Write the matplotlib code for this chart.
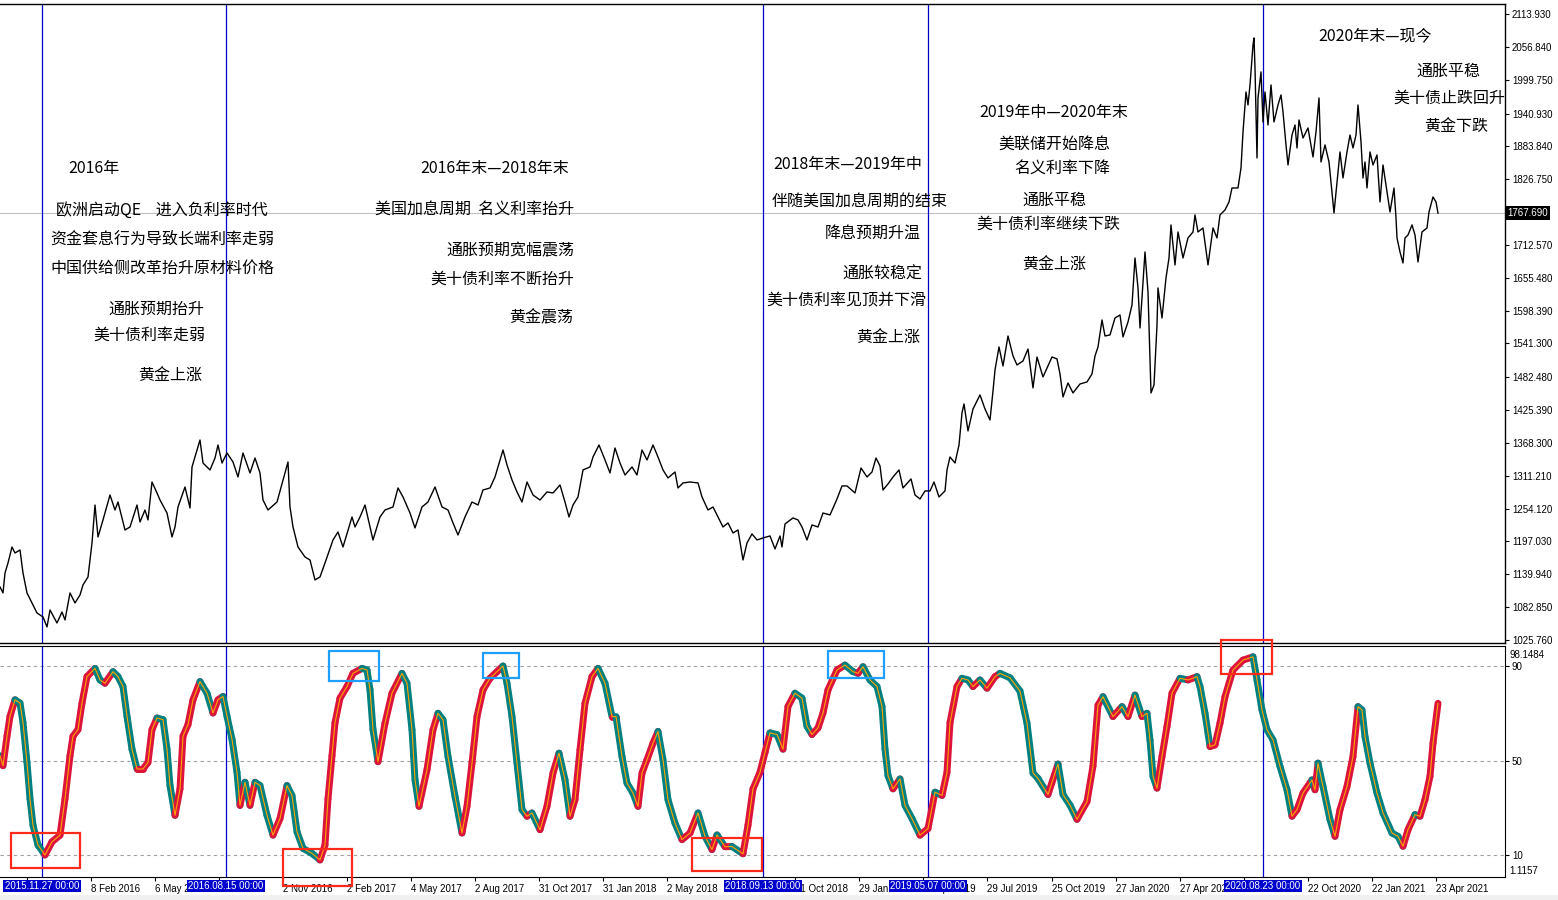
import matplotlib
matplotlib.use('Agg')
import matplotlib.pyplot as plt
import numpy as np
from matplotlib.collections import LineCollection
from matplotlib.patches import Rectangle
import matplotlib.transforms as mtransforms

# gold daily close, x = bar index
price_x = [0, 3, 5, 8, 12, 15, 20, 23, 27, 32, 37, 43, 47, 50, 57, 62, 65, 70, 75, 80, 83, 88, 92, 95, 98,
           103, 110, 115, 118, 125, 130, 137, 140, 145, 148, 152, 157, 160, 167, 172, 175, 178, 185, 190, 192,
           197, 200, 203, 210, 215, 218, 222, 227, 233, 238, 243, 250, 255, 260, 263, 268, 277, 283, 288, 290,
           293, 298, 305, 310, 315, 320, 325, 333, 338, 343, 352, 355, 360, 365, 373, 380, 385, 393, 398, 403,
           410, 415, 422, 428, 435, 442, 448, 453, 458, 465, 472, 478, 483, 490, 495, 500, 503, 507, 512, 517,
           522, 527, 533, 540, 547, 553, 560, 565, 569, 573, 578, 583, 590, 593, 599, 605, 610, 615, 620, 625,
           632, 637, 642, 647, 653, 658, 663, 668, 675, 678, 683, 690, 698, 702, 708, 713, 718, 723, 728, 733,
           738, 743, 747, 752, 757, 763, 770, 775, 780, 782, 785, 793, 798, 802, 807, 812, 818, 823, 830, 837,
           842, 847, 855, 861, 867, 872, 876, 880, 883, 888, 893, 899, 903, 911, 915, 920, 925, 930, 934, 939,
           945, 947, 950, 955, 959, 962, 964, 968, 973, 980, 985, 990, 993, 995, 999, 1003, 1008, 1013, 1017,
           1023, 1028, 1033, 1037, 1043, 1052, 1057, 1060, 1063, 1068, 1073, 1080, 1087, 1092, 1095, 1098, 1102,
           1105, 1110, 1115, 1120, 1123, 1128, 1132, 1135, 1138, 1140, 1145, 1148, 1151, 1154, 1157, 1158, 1162,
           1166, 1169, 1171, 1175, 1178, 1183, 1188, 1193, 1195, 1198, 1203, 1208, 1213, 1217, 1220, 1225, 1229,
           1232, 1238, 1241, 1243, 1246, 1248, 1250, 1253, 1254, 1255, 1257, 1258, 1261, 1263, 1265, 1268, 1271,
           1274, 1278, 1281, 1283, 1286, 1288, 1292, 1295, 1297, 1299, 1303, 1308, 1313, 1316, 1319, 1321, 1325,
           1329, 1332, 1334, 1337, 1340, 1343, 1347, 1350, 1353, 1356, 1358, 1361, 1363, 1365, 1367, 1370, 1373,
           1377, 1380, 1383, 1387, 1390, 1394, 1396, 1397, 1400, 1403, 1405, 1408, 1412, 1415, 1418, 1422, 1427,
           1429, 1433, 1436, 1438]
price = [1117.9, 1107.5, 1142.2, 1159.6, 1187.4, 1177.0, 1182.2, 1142.2, 1107.5, 1090.1, 1072.7, 1065.7, 1048.4,
         1077.9, 1055.3, 1074.4, 1060.5, 1107.5, 1090.1, 1104.0, 1121.4, 1135.3, 1194.4, 1260.4, 1204.8,
         1234.4, 1277.8, 1251.7, 1265.6, 1217.0, 1222.2, 1260.4, 1230.9, 1251.7, 1234.4, 1300.4, 1281.3, 1269.1,
         1246.5, 1204.8, 1222.2, 1257.0, 1291.7, 1255.2, 1326.5, 1356.0, 1373.4, 1333.4, 1321.3, 1342.1, 1364.7,
         1333.4, 1350.8, 1335.2, 1309.1, 1350.8, 1316.1, 1342.1, 1316.1, 1269.1, 1251.7, 1265.6, 1303.9, 1335.2,
         1257.0, 1222.2, 1187.4, 1170.0, 1164.8, 1130.1, 1135.3, 1159.6, 1199.6, 1213.5, 1187.4, 1239.6, 1222.2,
         1239.6, 1260.4, 1199.6, 1239.6, 1251.7, 1257.0, 1290.0, 1274.4, 1246.5, 1220.5, 1257.0, 1265.6, 1291.7,
         1257.0, 1251.7, 1229.2, 1208.3, 1239.6, 1265.6, 1260.4, 1286.5, 1290.0, 1309.1, 1338.7, 1356.0, 1330.0,
         1303.9, 1283.1, 1265.6, 1300.4, 1277.8, 1269.1, 1283.1, 1281.3, 1295.2, 1265.6, 1239.6, 1260.4, 1274.4,
         1321.3, 1326.5, 1343.9, 1364.7, 1338.7, 1316.1, 1359.5, 1333.4, 1312.6, 1326.5, 1312.6, 1356.0, 1338.7,
         1364.7, 1343.9, 1321.3, 1307.4, 1317.8, 1290.0, 1298.7, 1300.4, 1298.7, 1274.4, 1251.7, 1257.0, 1239.6,
         1222.2, 1229.2, 1211.8, 1217.0, 1164.8, 1194.4, 1210.1, 1199.6, 1203.1, 1206.6, 1184.0, 1206.6, 1187.4,
         1227.4, 1237.9, 1234.4, 1222.2, 1199.6, 1225.7, 1222.2, 1246.5, 1243.1, 1270.9, 1293.5, 1293.5, 1281.3,
         1324.8, 1309.1, 1317.8, 1342.1, 1328.3, 1286.5, 1297.0, 1309.1, 1321.3, 1290.0, 1305.7, 1277.8, 1270.9,
         1284.8, 1284.8, 1300.4, 1274.4, 1284.8, 1321.3, 1343.9, 1333.4, 1364.7, 1420.4, 1436.0, 1389.1, 1427.3,
         1451.7, 1427.3, 1408.2, 1458.6, 1495.1, 1535.1, 1502.1, 1554.2, 1519.5, 1503.8, 1510.8, 1531.6, 1463.9,
         1517.7, 1483.0, 1517.7, 1514.3, 1488.2, 1448.2, 1472.5, 1455.2, 1470.8, 1474.3, 1488.2, 1519.5, 1535.1,
         1582.0, 1554.2, 1556.0, 1585.5, 1590.7, 1552.5, 1578.6, 1608.1, 1689.8, 1637.7, 1568.1, 1700.3, 1630.7,
         1455.2, 1469.1, 1573.4, 1637.7, 1585.5, 1655.1, 1689.8, 1747.2, 1677.7, 1735.0, 1689.8, 1724.6, 1735.0,
         1764.6, 1735.0, 1742.0, 1677.7, 1742.0, 1724.6, 1764.6, 1773.3, 1787.2, 1811.5, 1811.5, 1846.3, 1908.9,
         1978.4, 1955.8, 1990.6, 2060.1, 2072.3, 2020.1, 1863.7, 1968.0, 2013.2, 1926.2, 1978.4, 1921.0, 1990.6,
         1926.2, 1955.8, 1973.2, 1943.6, 1886.3, 1851.5, 1903.6, 1921.0, 1881.0, 1929.7, 1898.4, 1915.8, 1865.4,
         1908.9, 1968.0, 1856.7, 1886.3, 1856.7, 1804.6, 1768.1, 1821.9, 1874.1, 1828.9, 1874.1, 1903.6, 1881.0,
         1903.6, 1955.8, 1891.5, 1828.9, 1856.7, 1811.5, 1874.1, 1851.5, 1868.9, 1787.2, 1851.5, 1804.6, 1769.8,
         1811.5, 1759.4, 1724.6, 1700.3, 1681.1, 1724.6, 1729.8, 1747.2, 1729.8, 1682.9, 1735.0, 1742.0, 1769.8,
         1795.9, 1787.2, 1767.7]

# oscillator (0-100)
osc_x = [0, 3, 7, 10, 15, 20, 23, 27, 30, 33, 38, 45, 52, 60, 65, 70, 73, 78, 82, 87, 95, 100, 105, 113, 118,
         123, 127, 132, 137, 143, 148, 152, 157, 163, 167, 170, 175, 180, 183, 188, 193, 200, 207, 213, 218, 223,
         227, 232, 237, 240, 245, 250, 255, 260, 267, 273, 280, 287, 292, 297, 303, 312, 320, 325, 328, 332, 335,
         340, 347, 353, 362, 367, 370, 373, 378, 385, 392, 402, 407, 412, 415, 419, 427, 433, 438, 443, 448, 455,
         462, 467, 472, 477, 483, 490, 497, 503, 507, 512, 517, 522, 527, 532, 540, 547, 553, 559, 565, 570, 575,
         580, 585, 592, 598, 605, 612, 616, 622, 627, 633, 638, 642, 647, 653, 658, 663, 668, 675, 682, 690, 698,
         705, 712, 717, 725, 732, 743, 748, 753, 760, 765, 770, 777, 783, 788, 795, 802, 807, 812, 818, 823, 828,
         837, 845, 853, 858, 863, 870, 877, 882, 885, 888, 893, 900, 905, 912, 920, 928, 935, 942, 947, 950, 957,
         962, 968, 973, 980, 987, 995, 1000, 1010, 1020, 1027, 1033, 1038, 1048, 1058, 1063, 1070, 1077, 1087,
         1093, 1098, 1103, 1113, 1122, 1128, 1135, 1142, 1147, 1150, 1153, 1157, 1162, 1167, 1172, 1180, 1188,
         1197, 1200, 1205, 1210, 1215, 1220, 1225, 1233, 1243, 1253, 1257, 1262, 1267, 1273, 1280, 1287, 1292,
         1297, 1303, 1312, 1315, 1318, 1323, 1330, 1335, 1340, 1347, 1353, 1358, 1362, 1365, 1370, 1377, 1383,
         1392, 1398, 1403, 1408, 1415, 1420, 1425, 1430, 1433, 1438]
osc = [52, 47.8, 60.3, 68.7, 75.7, 74.3, 66, 49.2, 33.8, 22.6, 14.2, 10.0, 15.6, 18.4, 33.8, 52, 60.3, 63.1, 74.3,
       85.5, 89, 84.1, 82.7, 87.6, 85.5, 81.3, 68.7, 54.8, 46.4, 46.4, 49.2, 63.1, 68, 67.3, 54.8, 39.4, 26.8, 38,
       60.3, 65.2, 75.7, 83.4, 78.5, 70.1, 75.7, 77.1, 68.7, 59, 45, 31, 40.8, 31, 40.8, 39.4, 26.8, 18.4, 25.4,
       39.4, 35.2, 19.8, 12.8, 10.7, 7.9, 14.2, 33.8, 52, 66, 76.4, 81.3, 86.9, 89, 88.3, 80, 63.1, 49.5, 65.8,
       78.5, 86.9, 82.7, 63, 41.8, 30.6, 46.1, 63, 70, 67.2, 51.7, 34.8, 19.3, 30.6, 48.9, 68.6, 79.9, 84.8, 87.6,
       90, 82.7, 68.6, 48.9, 29.2, 26.4, 27.8, 20.7, 30.6, 44.7, 53.1, 41.8, 26.4, 33.4, 54.5, 74.2, 85.5, 89,
       82.7, 68.6, 68.6, 51.7, 40.4, 36.2, 30.6, 44.7, 50.3, 57.3, 62.3, 50.3, 33.4, 23.5, 16.5, 19.3, 27.8, 17.9,
       12.3, 18.5, 13.5, 13.6, 10.5, 22.6, 38, 45, 53.4, 61.7, 61, 54.8, 72.9, 78.5, 76.4, 64.5, 61, 63.8, 70.1,
       79.9, 88.3, 90.4, 87.6, 86.9, 89.7, 84.1, 81.3, 72.9, 54.8, 43.6, 38, 42.2, 31, 25.4, 18.4, 21.2, 36.6,
       35.2, 45, 66, 81.3, 84.8, 84.1, 81.3, 84.1, 80.6, 85.5, 86.9, 85, 79.4, 65.8, 44.7, 42.4, 35.6, 48.5, 35.6,
       31.1, 25.1, 32.6, 47.7, 73.4, 77, 68.6, 72.8, 68.6, 77.7, 68.6, 70, 58.7, 43.3, 38.3, 51.7, 64.4, 78.5,
       84.8, 84.1, 85.5, 81.3, 70, 55.9, 56.6, 65.8, 77, 88.3, 92.5, 93.9, 84.1, 71.4, 63, 58.7, 47.5, 37.6, 26.4,
       29.2, 36.2, 41.8, 37.6, 48.9, 39, 25, 17.9, 29.2, 39, 51.7, 72.8, 71.4, 60.1, 48.9, 36.2, 27.8, 19.3, 17.9,
       13.7, 20.7, 27.1, 26.4, 33.4, 43.3, 57.3, 74.2]

price_ticks = [2113.93, 2056.84, 1999.75, 1940.93, 1883.84, 1826.75, 1712.57, 1655.48, 1598.39, 1541.30,
               1482.48, 1425.39, 1368.30, 1311.21, 1254.12, 1197.03, 1139.94, 1082.85, 1025.76]
last_price = 1767.69
osc_levels = [10, 50, 90]
osc_max, osc_min = 98.1484, 1.1157

# labels fully covered by the vline date boxes are left blank
date_tick_x = [27, 91, 155, 219, 283, 347, 411, 475, 539, 603, 667, 731, 795, 859, 923, 987, 1052, 1116,
               1180, 1244, 1308, 1372, 1436]
date_tick_lab = ['', '8 Feb 2016', '6 May 2016', '', '2 Nov 2016', '2 Feb 2017',
                 '4 May 2017', '2 Aug 2017', '31 Oct 2017', '31 Jan 2018', '2 May 2018', '',
                 '31 Oct 2018', '29 Jan 2019', '29 Apr 2019', '29 Jul 2019', '25 Oct 2019', '27 Jan 2020',
                 '27 Apr 2020', '', '22 Oct 2020', '22 Jan 2021', '23 Apr 2021']

vline_x = [42, 226, 763, 928, 1263]
vline_lab = ['2015.11.27 00:00', '2016.08.15 00:00', '2018.09.13 00:00', '2019.05.07 00:00', '2020.08.23 00:00']

# boxes on the oscillator: x0, x1, v0, v1, colour
boxes = [(11, 80, 4.5, 19.3, '#ff2a1a'), (283, 352, -3.1, 12.5, '#ff2a1a'), (692, 762, 3.2, 17.2, '#ff2a1a'),
         (1221, 1272, 86.6, 101.0, '#ff2a1a'), (329, 379, 83.7, 96.3, '#1e9fff'), (483, 519, 84.9, 95.5, '#1e9fff'),
         (828, 884, 84.9, 96.3, '#1e9fff')]

# annotations: text, left px, centre px
notes = [('2016年', 68, 169), ('欧洲启动QE    进入负利率时代', 56, 210), ('资金套息行为导致长端利率走弱', 50, 239),
         ('中国供给侧改革抬升原材料价格', 50, 268), ('通胀预期抬升', 108, 309), ('美十债利率走弱', 93, 335),
         ('黄金上涨', 138, 376),
         ('2016年末—2018年末', 420, 169), ('美国加息周期  名义利率抬升', 375, 209), ('通胀预期宽幅震荡', 446, 251),
         ('美十债利率不断抬升', 430, 279), ('黄金震荡', 509, 318),
         ('2018年末—2019年中', 773, 164), ('伴随美国加息周期的结束', 772, 201), ('降息预期升温', 825, 233),
         ('通胀较稳定', 842, 274), ('美十债利率见顶并下滑', 766, 301), ('黄金上涨', 856, 338),
         ('2019年中—2020年末', 979, 113), ('美联储开始降息', 998, 144), ('名义利率下降', 1014, 168),
         ('通胀平稳', 1022, 200), ('美十债利率继续下跌', 976, 224), ('黄金上涨', 1022, 265),
         ('2020年末—现今', 1318, 36), ('通胀平稳', 1416, 71), ('美十债止跌回升', 1393, 98), ('黄金下跌', 1424, 126)]

plt.rcParams['font.family'] = ['Noto Sans CJK SC', 'DejaVu Sans']
small = dict(family='Liberation Sans', size=7)

W, H = 1558, 900
fig = plt.figure(figsize=(W / 100, H / 100), dpi=100)
fig.patch.set_facecolor('white')


def fx(px):
    return px / W


def fy(py):
    return 1 - py / H


ax = fig.add_axes([0, fy(643), fx(1505), fy(4) - fy(643)])
ax2 = fig.add_axes([0, fy(877), fx(1505), fy(646) - fy(877)])

# price panel
ax.plot(price_x, price, color='black', lw=1.0, zorder=3)
ax.axhline(last_price, color='#c0c0c0', lw=0.8, zorder=1)
ax.set_xlim(0, 1505)
ax.set_ylim(1020.5, 2131.3)
ax.set_xticks([])
ax.yaxis.tick_right()
ax.set_yticks(price_ticks)
ax.set_yticklabels(['%.3f' % p for p in price_ticks], fontdict=small)
ax.tick_params(axis='y', direction='out', length=3, width=0.8, pad=2)
ax.spines['left'].set_visible(False)
for s in ['top', 'right', 'bottom']:
    ax.spines[s].set_linewidth(1.0)
trans = mtransforms.blended_transform_factory(ax.transAxes, ax.transData)
ax.text(1.0015, last_price, '%.3f' % last_price, transform=trans, ha='left', va='center', color='white',
        fontdict=small, bbox=dict(boxstyle='square,pad=0.2', fc='black', ec='none'), zorder=10)

# oscillator panel: red while rising, teal while falling, orange signal on top
ox = np.array(osc_x, dtype=float)
ov = np.array(osc, dtype=float)
pts = np.column_stack([ox, ov])
segs = np.stack([pts[:-1], pts[1:]], axis=1)
cols = ['#dc143c' if d >= 0 else '#008080' for d in np.diff(ov)]
lc = LineCollection(segs, colors=cols, linewidths=5.0, capstyle='round', zorder=3)
ax2.add_collection(lc)
ax2.plot(ox, ov, color='orange', lw=0.8, zorder=4)
for lv in osc_levels:
    ax2.axhline(lv, color='#a0a0a0', lw=0.8, ls=(0, (3, 3)), zorder=1)
ax2.set_xlim(0, 1505)
ax2.set_ylim(0.69, 98.47)
ax2.yaxis.tick_right()
ax2.set_yticks(osc_levels)
ax2.set_yticklabels([str(v) for v in osc_levels], fontdict=small)
ax2.tick_params(axis='y', direction='out', length=3, width=0.8, pad=2)
ax2.text(1.003, 0.96, '%.4f' % osc_max, transform=ax2.transAxes, ha='left', va='center', fontdict=small)
ax2.text(1.003, 0.025, '%.4f' % osc_min, transform=ax2.transAxes, ha='left', va='center', fontdict=small)
ax2.spines['left'].set_visible(False)
ax2.set_xticks(date_tick_x)
ax2.set_xticklabels(date_tick_lab, fontdict=small)
for lab in ax2.get_xticklabels():
    lab.set_ha('left')
ax2.tick_params(axis='x', direction='out', length=3, width=0.8, pad=2)

for xv, lab in zip(vline_x, vline_lab):
    ax.axvline(xv, color='#0000cc', lw=0.9, zorder=2)
    ax2.axvline(xv, color='#0000cc', lw=0.9, zorder=2)
    ax2.text(xv, -0.039, lab, transform=ax2.get_xaxis_transform(), ha='center', va='center', color='white',
             fontdict=small, bbox=dict(boxstyle='square,pad=0.15', fc='#0000cc', ec='none'), zorder=10)

for x0, x1, v0, v1, c in boxes:
    ax2.add_patch(Rectangle((x0, v0), x1 - x0, v1 - v0, fill=False, ec=c, lw=1.6, clip_on=False, zorder=6))

for s, x, y in notes:
    fig.text(fx(x), fy(y), s, ha='left', va='center', fontsize=11.5, color='black')

fig.patches.append(Rectangle((0, 0), 1, 5 / H, transform=fig.transFigure, fc='#f0f0f0', ec='none'))

fig.savefig('out.png', dpi=100, facecolor='white')
